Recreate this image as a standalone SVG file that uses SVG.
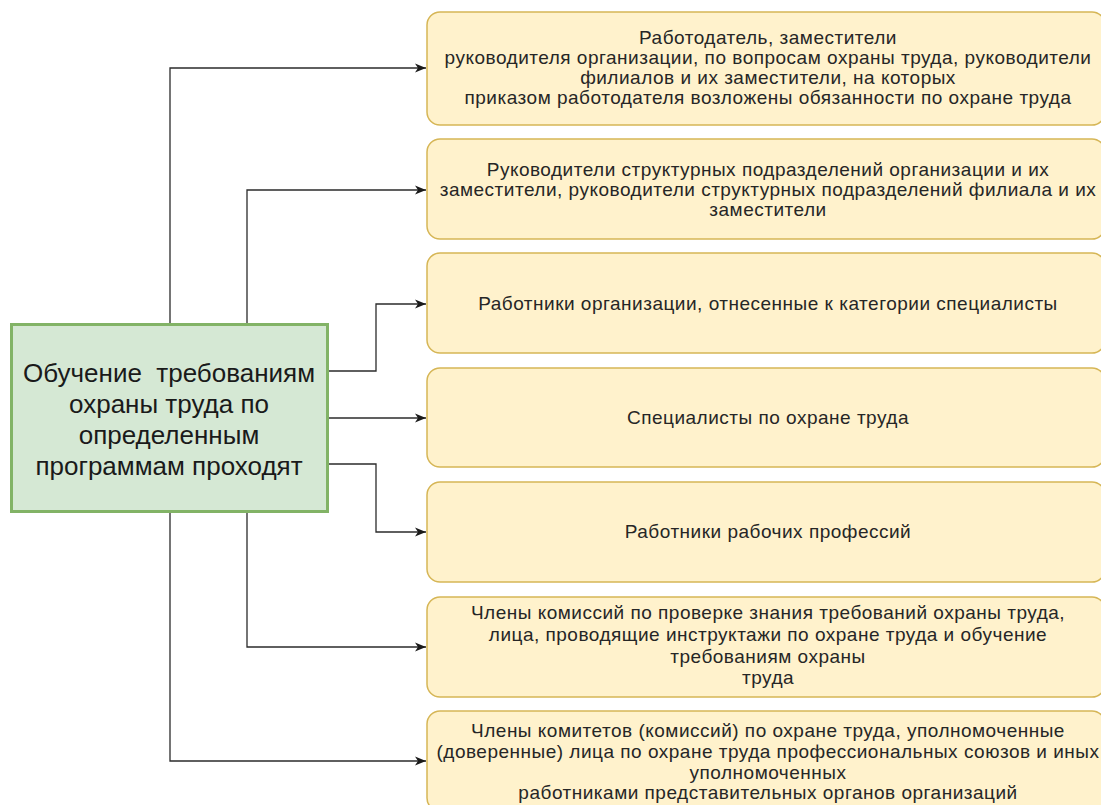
<svg xmlns="http://www.w3.org/2000/svg" width="1101" height="805" viewBox="0 0 1101 805">
<defs>
<marker id="arr" markerWidth="12" markerHeight="10" refX="11" refY="5" orient="auto" markerUnits="userSpaceOnUse">
<path d="M0,0.5 L11,5 L0,9.5 L3,5 Z" fill="#1a1a1a"/>
</marker>
<style>
.box{fill:#fff2cc;stroke:#d6b656;stroke-width:1.5}
.main{fill:#d5e8d4;stroke:#82b366;stroke-width:3}
.t{font-family:"Liberation Sans",Arial,sans-serif;font-size:19px;letter-spacing:0.5px;fill:#262626;text-anchor:middle}
.tm{font-family:"Liberation Sans",Arial,sans-serif;font-size:26px;fill:#1a1a1a;text-anchor:middle;white-space:pre}
.c{fill:none;stroke:#2b2b2b;stroke-width:1.3;marker-end:url(#arr)}
</style>
</defs>
<rect width="1101" height="805" fill="#ffffff"/>
<g id="connectors">
<path class="c" d="M170,324 V68 H426"/>
<path class="c" d="M247,324 V190 H426"/>
<path class="c" d="M328,371 H376 V304 H426"/>
<path class="c" d="M328,418 H426"/>
<path class="c" d="M328,464 H376 V532 H426"/>
<path class="c" d="M247,511 V647 H426"/>
<path class="c" d="M170,511 V761 H426"/>
</g>
<g id="main">
<rect class="main" x="11.5" y="324.5" width="316" height="187"/>
<text class="tm" x="169" y="382" xml:space="preserve">Обучение  требованиям</text>
<text class="tm" x="169" y="413">охраны труда по</text>
<text class="tm" x="169" y="444">определенным</text>
<text class="tm" x="169" y="475">программам проходят</text>
</g>
<g id="n1">
<rect class="box" x="427" y="12" width="678" height="113" rx="13"/>
<text class="t" x="768" y="44">Работодатель, заместители</text>
<text class="t" x="768" y="64">руководителя организации, по вопросам охраны труда, руководители</text>
<text class="t" x="768" y="84">филиалов и их заместители, на которых</text>
<text class="t" x="768" y="104">приказом работодателя возложены обязанности по охране труда</text>
</g>
<g id="n2">
<rect class="box" x="427" y="139" width="678" height="100" rx="13"/>
<text class="t" x="768" y="176">Руководители структурных подразделений организации и их</text>
<text class="t" x="768" y="196">заместители, руководители структурных подразделений филиала и их</text>
<text class="t" x="768" y="216">заместители</text>
</g>
<g id="n3">
<rect class="box" x="427" y="253" width="678" height="100" rx="13"/>
<text class="t" x="768" y="310">Работники организации, отнесенные к категории специалисты</text>
</g>
<g id="n4">
<rect class="box" x="427" y="368" width="678" height="99" rx="13"/>
<text class="t" x="768" y="424">Специалисты по охране труда</text>
</g>
<g id="n5">
<rect class="box" x="427" y="482" width="678" height="100" rx="13"/>
<text class="t" x="768" y="538">Работники рабочих профессий</text>
</g>
<g id="n6">
<rect class="box" x="427" y="597" width="678" height="100" rx="13"/>
<text class="t" x="768" y="619">Члены комиссий по проверке знания требований охраны труда,</text>
<text class="t" x="768" y="641">лица, проводящие инструктажи по охране труда и обучение</text>
<text class="t" x="768" y="663">требованиям охраны</text>
<text class="t" x="768" y="684">труда</text>
</g>
<g id="n7">
<rect class="box" x="427" y="711" width="678" height="100" rx="13"/>
<text class="t" x="768" y="737">Члены комитетов (комиссий) по охране труда, уполномоченные</text>
<text class="t" x="768" y="758">(доверенные) лица по охране труда профессиональных союзов и иных</text>
<text class="t" x="768" y="779">уполномоченных</text>
<text class="t" x="768" y="799">работниками представительных органов организаций</text>
</g>
</svg>
